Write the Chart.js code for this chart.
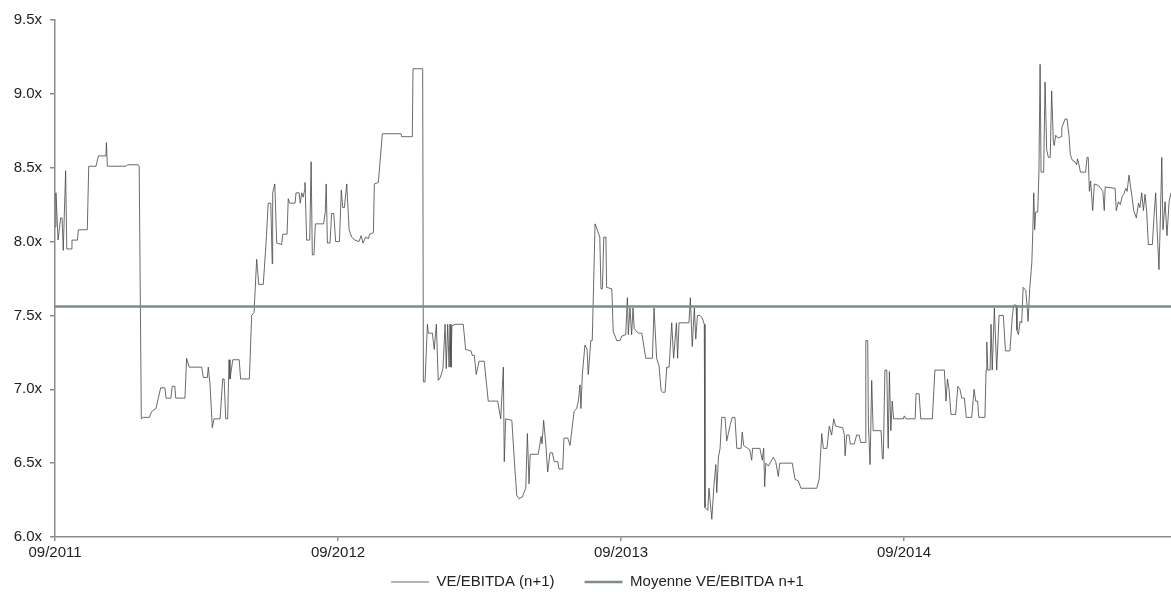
<!DOCTYPE html>
<html>
<head>
<meta charset="utf-8">
<script src="https://cdn.jsdelivr.net/npm/chart.js@4.4.1/dist/chart.umd.min.js"></script>
<style>
  html, body { margin: 0; padding: 0; background: #fff; }
  #wrap { width: 1171px; height: 592px; }
</style>
</head>
<body>
<div id="wrap"><canvas id="chart"></canvas></div>
<script>
// months elapsed since 09/2011, and the VE/EBITDA (n+1) multiple read at each of them
const months = [
  0.00, 0.04, 0.13, 0.24, 0.30, 0.35, 0.45, 0.50, 0.69, 0.72,
  0.95, 0.99, 1.37, 1.43, 1.74, 1.84, 2.16, 2.18, 2.22, 2.30,
  3.01, 3.07, 3.53, 3.57, 3.66, 3.74, 4.00, 4.10, 4.28, 4.38,
  4.48, 4.66, 4.71, 4.91, 4.97, 5.08, 5.12, 5.51, 5.58, 5.69,
  6.22, 6.29, 6.46, 6.50, 6.57, 6.67, 6.74, 7.00, 7.11, 7.17,
  7.24, 7.32, 7.38, 7.42, 7.54, 7.81, 7.87, 8.24, 8.34, 8.44,
  8.55, 8.64, 8.83, 8.95, 9.04, 9.15, 9.21, 9.23, 9.32, 9.40,
  9.61, 9.66, 9.84, 9.89, 9.95, 10.18, 10.22, 10.35, 10.40, 10.46,
  10.52, 10.57, 10.60, 10.67, 10.80, 10.86, 10.91, 10.98, 11.04, 11.39,
  11.46, 11.50, 11.55, 11.66, 11.73, 11.82, 11.90, 12.06, 12.14, 12.20,
  12.27, 12.37, 12.47, 12.58, 12.72, 12.89, 12.98, 13.06, 13.17, 13.29,
  13.34, 13.50, 13.54, 13.71, 13.88, 14.67, 14.70, 15.15, 15.18, 15.59,
  15.62, 15.69, 15.79, 15.83, 16.00, 16.08, 16.17, 16.25, 16.34, 16.45,
  16.54, 16.59, 16.65, 16.71, 16.75, 16.79, 16.83, 16.96, 17.31, 17.41,
  17.64, 17.69, 17.78, 17.86, 17.98, 18.20, 18.37, 18.77, 18.90, 19.01,
  19.05, 19.11, 19.37, 19.48, 19.58, 19.67, 19.81, 19.96, 20.03, 20.10,
  20.15, 20.49, 20.61, 20.65, 20.72, 20.81, 20.89, 20.99, 21.09, 21.17,
  21.32, 21.37, 21.53, 21.58, 21.74, 21.84, 22.01, 22.12, 22.19, 22.26,
  22.30, 22.36, 22.47, 22.56, 22.61, 22.72, 22.78, 22.90, 22.97, 23.10,
  23.15, 23.21, 23.27, 23.36, 23.39, 23.61, 23.67, 23.82, 23.96, 24.03,
  24.20, 24.27, 24.31, 24.38, 24.45, 24.51, 24.56, 24.73, 24.88, 25.05,
  25.33, 25.40, 25.51, 25.61, 25.70, 25.77, 25.87, 25.94, 26.04, 26.15,
  26.23, 26.35, 26.40, 26.46, 26.88, 26.94, 27.02, 27.11, 27.17, 27.24,
  27.35, 27.45, 27.53, 27.56, 27.68, 27.73, 27.85, 27.94, 28.02, 28.06,
  28.13, 28.20, 28.27, 28.41, 28.48, 28.55, 28.63, 28.72, 28.83, 28.91,
  29.09, 29.14, 29.20, 29.37, 29.46, 29.54, 29.58, 29.89, 29.99, 30.05,
  30.09, 30.14, 30.25, 30.35, 30.46, 30.56, 30.67, 30.73, 31.26, 31.38,
  31.52, 31.63, 32.30, 32.40, 32.51, 32.58, 32.73, 32.83, 32.93, 33.02,
  33.10, 33.40, 33.47, 33.50, 33.57, 33.67, 33.72, 33.89, 33.99, 34.10,
  34.16, 34.35, 34.38, 34.46, 34.49, 34.56, 34.63, 34.69, 35.03, 35.08,
  35.12, 35.19, 35.27, 35.31, 35.33, 35.38, 35.44, 35.50, 35.56, 35.97,
  36.01, 36.08, 36.47, 36.51, 36.64, 36.71, 37.20, 37.31, 37.71, 37.78,
  37.84, 37.91, 37.99, 38.19, 38.28, 38.37, 38.45, 38.56, 38.64, 38.87,
  38.97, 39.04, 39.12, 39.17, 39.43, 39.48, 39.51, 39.55, 39.65, 39.69,
  39.74, 39.83, 39.93, 40.03, 40.21, 40.30, 40.49, 40.59, 40.65, 40.75,
  40.79, 40.85, 40.92, 40.99, 41.05, 41.16, 41.22, 41.26, 41.33, 41.42,
  41.46, 41.50, 41.54, 41.58, 41.67, 41.72, 41.77, 41.81, 41.92, 41.98,
  42.05, 42.12, 42.20, 42.26, 42.33, 42.37, 42.43, 42.52, 42.66, 42.69,
  42.83, 42.91, 43.00, 43.05, 43.14, 43.25, 43.32, 43.36, 43.42, 43.48,
  43.70, 43.76, 43.81, 43.86, 43.91, 43.96, 44.00, 44.07, 44.24, 44.34,
  44.43, 44.49, 44.53, 44.95, 45.00, 45.09, 45.17, 45.26, 45.32, 45.40,
  45.46, 45.54, 45.66, 45.74, 45.85, 45.94, 46.00, 46.08, 46.15, 46.22,
  46.29, 46.36, 46.53, 46.60, 46.67, 46.74, 46.81, 46.87, 46.93, 46.98,
  47.07, 47.15, 47.24, 47.32
];
const veEbitda = [
  8.10, 8.33, 8.01, 8.16, 8.16, 7.94, 8.48, 7.95, 7.95, 8.01,
  8.01, 8.08, 8.08, 8.51, 8.51, 8.58, 8.58, 8.67, 8.51, 8.51,
  8.51, 8.52, 8.52, 8.51, 6.80, 6.81, 6.81, 6.85, 6.87, 6.94,
  7.01, 7.01, 6.94, 6.94, 7.02, 7.02, 6.94, 6.94, 7.21, 7.15,
  7.15, 7.08, 7.08, 7.15, 7.04, 6.74, 6.80, 6.80, 7.07, 7.07,
  6.80, 6.80, 7.20, 7.07, 7.20, 7.20, 7.07, 7.07, 7.50, 7.52,
  7.88, 7.71, 7.71, 7.99, 8.26, 8.26, 7.85, 8.33, 8.39, 7.99,
  7.98, 8.05, 8.05, 8.29, 8.26, 8.26, 8.33, 8.33, 8.26, 8.33,
  8.30, 8.34, 8.40, 8.01, 8.01, 8.54, 7.91, 7.91, 8.12, 8.12,
  8.20, 8.39, 7.99, 7.99, 8.19, 8.19, 8.00, 8.00, 8.35, 8.23,
  8.23, 8.39, 8.08, 8.03, 8.01, 8.00, 8.04, 7.99, 8.03, 8.02,
  8.05, 8.06, 8.39, 8.40, 8.73, 8.73, 8.71, 8.71, 9.17, 9.17,
  7.05, 7.05, 7.44, 7.38, 7.38, 7.27, 7.44, 7.06, 7.08, 7.14,
  7.44, 7.14, 7.44, 7.15, 7.44, 7.15, 7.43, 7.44, 7.44, 7.27,
  7.26, 7.23, 7.23, 7.10, 7.19, 7.19, 6.92, 6.92, 6.80, 7.15,
  6.51, 6.80, 6.79, 6.51, 6.28, 6.26, 6.27, 6.33, 6.70, 6.36,
  6.56, 6.56, 6.68, 6.63, 6.79, 6.63, 6.44, 6.57, 6.57, 6.51,
  6.51, 6.46, 6.46, 6.67, 6.67, 6.62, 6.85, 6.87, 6.92, 7.03,
  6.87, 7.10, 7.30, 7.27, 7.10, 7.33, 7.33, 8.12, 8.09, 8.03,
  7.68, 7.68, 8.03, 8.03, 7.69, 7.68, 7.39, 7.33, 7.33, 7.36,
  7.37, 7.62, 7.37, 7.55, 7.37, 7.55, 7.41, 7.38, 7.38, 7.21,
  7.21, 7.55, 7.21, 7.16, 6.99, 6.98, 6.98, 7.15, 7.15, 7.45,
  7.21, 7.45, 7.21, 7.45, 7.45, 7.62, 7.29, 7.55, 7.34, 7.50,
  7.50, 7.48, 7.44, 6.20, 6.18, 6.33, 6.12, 6.35, 6.49, 6.30,
  6.54, 6.60, 6.81, 6.81, 6.65, 6.70, 6.76, 6.81, 6.81, 6.60,
  6.60, 6.71, 6.62, 6.60, 6.59, 6.52, 6.60, 6.60, 6.52, 6.60,
  6.34, 6.50, 6.48, 6.51, 6.54, 6.51, 6.41, 6.50, 6.50, 6.39,
  6.38, 6.33, 6.33, 6.39, 6.70, 6.60, 6.60, 6.75, 6.69, 6.80,
  6.75, 6.74, 6.69, 6.55, 6.69, 6.69, 6.63, 6.63, 6.69, 6.69,
  6.64, 6.64, 7.33, 7.33, 6.76, 6.49, 7.06, 6.72, 6.72, 6.53,
  6.53, 7.13, 7.13, 6.72, 6.60, 7.12, 6.72, 6.92, 6.80, 6.80,
  6.82, 6.80, 6.80, 6.97, 6.97, 6.80, 6.80, 7.13, 7.13, 6.92,
  7.07, 7.00, 6.83, 6.83, 7.02, 7.00, 6.94, 6.94, 6.81, 6.81,
  7.00, 6.92, 6.92, 6.81, 6.81, 7.13, 7.32, 7.13, 7.13, 7.44,
  7.13, 7.55, 7.13, 7.50, 7.50, 7.26, 7.26, 7.49, 7.57, 7.57,
  7.40, 7.37, 7.46, 7.45, 7.69, 7.67, 7.56, 7.46, 7.68, 7.86,
  8.07, 8.33, 8.08, 8.20, 8.20, 8.47, 9.20, 8.47, 8.47, 9.08,
  8.62, 8.57, 8.57, 9.02, 8.68, 8.65, 8.72, 8.70, 8.71, 8.77,
  8.83, 8.83, 8.71, 8.59, 8.55, 8.54, 8.52, 8.56, 8.52, 8.47,
  8.47, 8.57, 8.57, 8.34, 8.41, 8.30, 8.21, 8.39, 8.38, 8.36,
  8.34, 8.21, 8.37, 8.36, 8.21, 8.27, 8.25, 8.31, 8.32, 8.36,
  8.34, 8.45, 8.31, 8.21, 8.16, 8.26, 8.23, 8.33, 8.21, 8.32,
  8.20, 7.98, 7.98, 8.17, 8.33, 8.05, 7.81, 8.16, 8.57, 8.08,
  8.27, 8.04, 8.27, 8.33
];
const meanValue = 7.56;   // Moyenne VE/EBITDA n+1

const tickMonths = [0, 12, 24, 36];
const tickLabels = ['09/2011', '09/2012', '09/2013', '09/2014'];
const lastMonth = months[months.length - 1];

const axisGrey = '#8c8c8c';
const font = { family: 'Arial, "Liberation Sans", sans-serif', size: 15 };

// the legend needs a wide gap between its two items, which chart.js only gives
// together with a tall box; move the drawn legend back into place after layout
const legendNudge = {
  id: 'legendNudge',
  afterLayout(chart) {
    const lg = chart.legend;
    if (!lg) return;
    lg.top -= 17.5; lg.bottom -= 17.5;
    lg.left += 12; lg.right += 12;
  }
};

const ctx = document.getElementById('chart').getContext('2d');
new Chart(ctx, {
  type: 'line',
  data: {
    datasets: [
      {
        label: 'VE/EBITDA (n+1)',
        data: months.map((m, i) => ({ x: m, y: veEbitda[i] })),
        borderColor: '#454545',
        borderWidth: 0.8,
        pointRadius: 0,
        tension: 0,
        order: 1
      },
      {
        label: 'Moyenne VE/EBITDA n+1',
        data: [{ x: 0, y: meanValue }, { x: lastMonth, y: meanValue }],
        borderColor: '#7f8c8d',
        borderWidth: 2.5,
        pointRadius: 0,
        order: 0
      }
    ]
  },
  plugins: [legendNudge],
  options: {
    responsive: true,
    maintainAspectRatio: false,
    animation: false,
    layout: { padding: { left: 0, top: 20, right: 0, bottom: -25 } },
    plugins: {
      tooltip: { enabled: false },
      legend: {
        position: 'bottom',
        labels: {
          usePointStyle: true,
          pointStyle: 'line',
          pointStyleWidth: 38,
          padding: 30,
          color: '#222',
          font: font,
          sort: (a, b) => a.datasetIndex - b.datasetIndex
        }
      }
    },
    scales: {
      x: {
        type: 'linear',
        min: 0,
        max: lastMonth,
        afterBuildTicks: s => { s.ticks = tickMonths.map(v => ({ value: v })); },
        afterFit: s => { s.height = 25; },
        ticks: {
          color: '#222',
          font: font,
          padding: 3,
          maxRotation: 0,
          callback: v => tickLabels[tickMonths.indexOf(v)]
        },
        grid: { drawOnChartArea: false, drawTicks: true, tickLength: 4, color: axisGrey, lineWidth: 1.5 },
        border: { color: axisGrey, width: 1.5 }
      },
      y: {
        min: 6,
        max: 9.5,
        afterFit: s => { s.width = 55; },
        ticks: {
          stepSize: 0.5,
          color: '#222',
          font: font,
          padding: 8,
          callback: v => v.toFixed(1) + 'x'
        },
        grid: { drawOnChartArea: false, drawTicks: true, tickLength: 5, color: axisGrey, lineWidth: 1.5 },
        border: { color: axisGrey, width: 1.5 }
      }
    }
  }
});
</script>
</body>
</html>
